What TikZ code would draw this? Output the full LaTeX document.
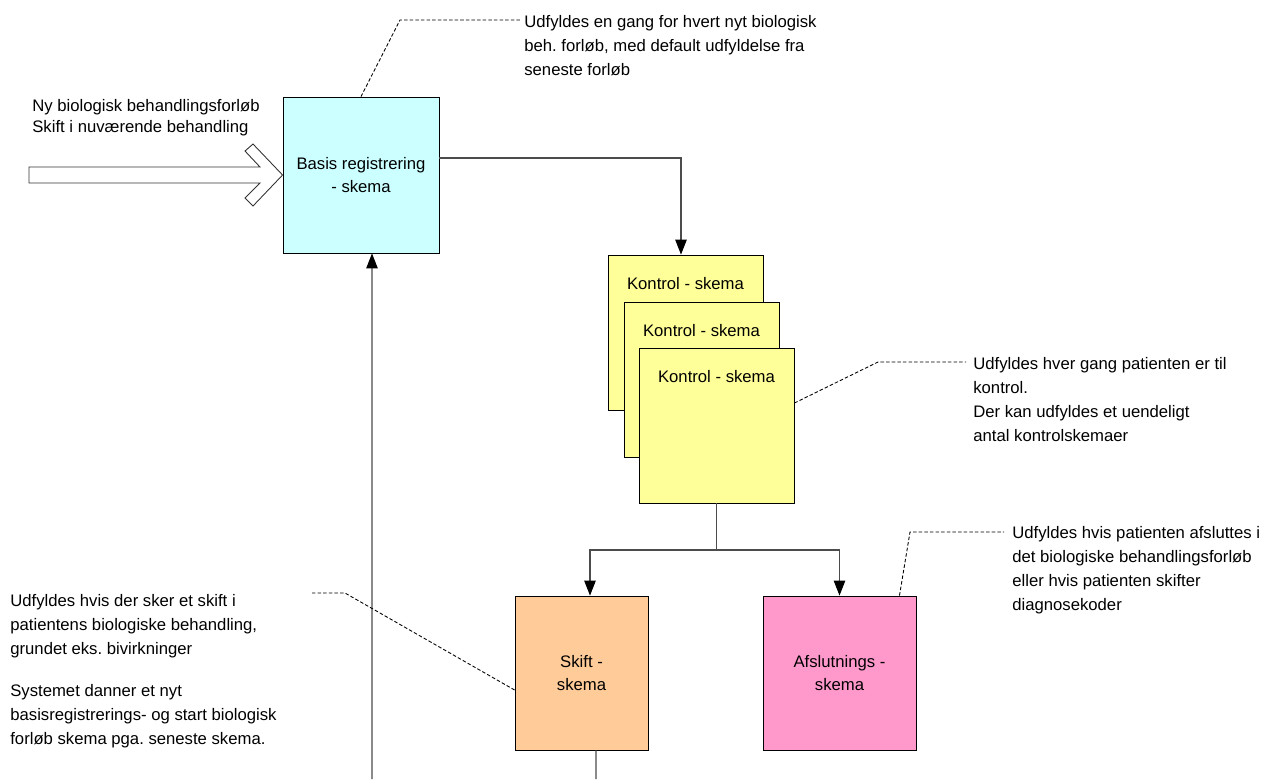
\documentclass[tikz,border=0pt]{standalone}
\usepackage{fontspec}
\setmainfont{Liberation Sans}
\usetikzlibrary{arrows.meta,calc}
\frenchspacing
\newcommand{\boxfont}{\fontsize{9.5pt}{12.6pt}\selectfont}
\newcommand{\notefont}{\fontsize{9.5pt}{13.7pt}\selectfont}
\tikzset{
  >={Triangle[length=3mm,width=2.3mm,color=black]},
  form/.style   ={draw=black, line width=0.5pt, align=center, inner sep=0pt, font=\boxfont},
  ktitle/.style ={anchor=north, yshift=-0.33cm, font=\boxfont},
  flow/.style   ={draw=black!70, line width=0.6pt, ->},
  link/.style   ={draw=black!70, line width=0.6pt},
  callout/.style={black, line width=0.5pt, dash pattern=on 2pt off 1.2pt},
  note/.style   ={anchor=north west, align=left, inner sep=0pt, font=\notefont},
}
\definecolor{basisfill}{RGB}{204,255,255}
\definecolor{kontrolfill}{RGB}{255,255,153}
\definecolor{skiftfill}{RGB}{255,204,153}
\definecolor{afslfill}{RGB}{255,153,204}

\begin{document}
\begin{tikzpicture}[x=0.02cm,y=-0.02cm]
  \useasboundingbox (0,0) rectangle (1272,779);

  % forms
  \node[form, fill=basisfill, minimum width=3.12cm, minimum height=3.12cm] (basis) at (361,175)
    {Basis registrering\\- skema};
  \node[form, fill=kontrolfill, minimum width=3.1cm, minimum height=3.1cm,
    label={[ktitle]north:Kontrol - skema}] (k1) at (685.5,332.5) {};
  \node[form, fill=kontrolfill, minimum width=3.1cm, minimum height=3.1cm,
    label={[ktitle]north:Kontrol - skema}] (k2) at (701.5,379.5) {};
  \node[form, fill=kontrolfill, minimum width=3.1cm, minimum height=3.1cm,
    label={[ktitle]north:Kontrol - skema}] (k3) at (716.5,425.5) {};
  \node[form, fill=skiftfill, minimum width=2.66cm, minimum height=3.08cm] (skift) at (581.5,673)
    {Skift -\\skema};
  \node[form, fill=afslfill, minimum width=3.06cm, minimum height=3.08cm] (afsl) at (839.5,673)
    {Afslutnings -\\skema};

  % hollow arrow in
  \draw[line width=0.5pt, draw=black!80, fill=white] (29,167) -- (260,167) -- (245,151) -- (253,144)
    -- (basis.west) -- (253,206) -- (245,198) -- (260,183) -- (29,183) -- cycle;
  \node[note, font={\fontsize{9.5pt}{12pt}\selectfont}] (start) at (32,99)
    {Ny biologisk behandlingsforløb\\Skift i nuværende behandling};

  % flow
  \coordinate (split) at (716.5,550);
  \coordinate (basisin) at (372,779);
  \coordinate (skiftout) at (596,779);
  \draw[flow] ([yshift=0.34cm]basis.east) -| ([xshift=-0.09cm]k1.north);
  \draw[link] (k3.south) -- (split);
  \draw[flow] (split) -| ([xshift=0.17cm]skift.north);
  \draw[flow] (split) -| (afsl.north);
  \draw[link] ([xshift=0.29cm]skift.south) -- (skiftout);
  \draw[flow] (basisin) -- ([xshift=0.22cm]basis.south);

  % notes
  \node[note] (note1) at (524,15)
    {Udfyldes en gang for hvert nyt biologisk\\beh. forløb, med default udfyldelse fra\\seneste forløb};
  \coordinate (c1) at (400,20);
  \coordinate (e1) at (520,20);
  \draw[callout] (basis.north) -- (c1) -- (e1);

  \node[note] (note2) at (973,357)
    {Udfyldes hver gang patienten er til\\kontrol.\\Der kan udfyldes et uendeligt\\antal kontrolskemaer};
  \coordinate (c2) at (878,362);
  \coordinate (e2) at (966,362);
  \draw[callout] ([yshift=0.45cm]k3.east) -- (c2) -- (e2);

  \node[note] (note3) at (1012,526)
    {Udfyldes hvis patienten afsluttes i\\det biologiske behandlingsforløb\\eller hvis patienten skifter\\diagnosekoder};
  \coordinate (c3) at (910,532);
  \coordinate (e3) at (1004,532);
  \draw[callout] ([xshift=1.2cm]afsl.north) -- (c3) -- (e3);

  \node[note] (note4) at (10,594)
    {Udfyldes hvis der sker et skift i\\patientens biologiske behandling,\\grundet eks. bivirkninger\\[0.36cm]
     Systemet danner et nyt\\basisregistrerings- og start biologisk\\forløb skema pga. seneste skema.};
  \coordinate (c4) at (345,593);
  \coordinate (e4) at (312,593);
  \draw[callout] ([yshift=-0.34cm]skift.west) -- (c4) -- (e4);
\end{tikzpicture}
\end{document}
